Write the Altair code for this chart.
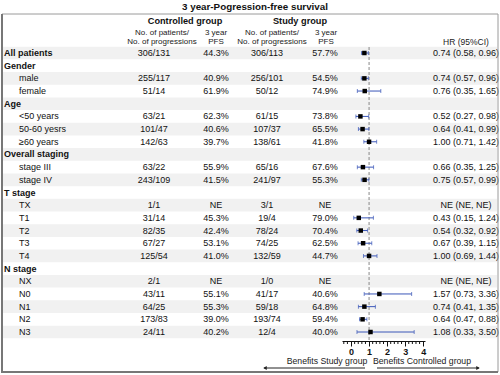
import altair as alt
import pandas as pd

FONT = "Liberation Sans"

labels = ["All patients", "Gender", "male", "female", "Age", "<50 years", "50-60 yesrs",
          "≥60 years", "Overall staging", "stage III", "stage IV", "T stage", "TX", "T1",
          "T2", "T3", "T4", "N stage", "NX", "N0", "N1", "N2", "N3"]
is_header = [True, True, False, False, True, False, False, False, True, False, False, True,
             False, False, False, False, False, True, False, False, False, False, False]
ctrl_n = ["306/131", "", "255/117", "51/14", "", "63/21", "101/47", "142/63", "", "63/22",
          "243/109", "", "1/1", "31/14", "82/35", "67/27", "125/54", "", "2/1", "43/11",
          "64/25", "173/83", "24/11"]
ctrl_pfs = ["44.3%", "", "40.9%", "61.9%", "", "62.3%", "40.6%", "39.7%", "", "55.9%",
            "41.5%", "", "NE", "45.3%", "42.4%", "53.1%", "41.0%", "", "NE", "55.1%",
            "55.3%", "39.0%", "40.2%"]
study_n = ["306/113", "", "256/101", "50/12", "", "61/15", "107/37", "138/61", "", "65/16",
           "241/97", "", "3/1", "19/4", "78/24", "74/25", "132/59", "", "1/0", "41/17",
           "59/18", "193/74", "12/4"]
study_pfs = ["57.7%", "", "54.5%", "74.9%", "", "73.8%", "65.5%", "41.8%", "", "67.6%",
             "55.3%", "", "NE", "79.0%", "70.4%", "62.5%", "44.7%", "", "NE", "40.6%",
             "64.8%", "59.4%", "40.0%"]
hr = [0.74, None, 0.74, 0.76, None, 0.52, 0.64, 1.00, None, 0.66, 0.75, None, None, 0.43,
      0.54, 0.67, 1.00, None, None, 1.57, 0.74, 0.64, 1.08]
hr_lo = [0.58, None, 0.57, 0.35, None, 0.27, 0.41, 0.71, None, 0.35, 0.57, None, None, 0.15,
         0.32, 0.39, 0.69, None, None, 0.73, 0.41, 0.47, 0.33]
hr_hi = [0.96, None, 0.96, 1.65, None, 0.98, 0.99, 1.42, None, 1.25, 0.99, None, None, 1.24,
         0.92, 1.15, 1.44, None, None, 3.36, 1.35, 0.88, 3.50]
hr_text = ["0.74 (0.58, 0.96)", "", "0.74 (0.57, 0.96)", "0.76 (0.35, 1.65)", "",
           "0.52 (0.27, 0.98)", "0.64 (0.41, 0.99)", "1.00 (0.71, 1.42)", "",
           "0.66 (0.35, 1.25)", "0.75 (0.57, 0.99)", "", "NE (NE, NE)", "0.43 (0.15, 1.24)",
           "0.54 (0.32, 0.92)", "0.67 (0.39, 1.15)", "1.00 (0.69, 1.44)", "", "NE (NE, NE)",
           "1.57 (0.73, 3.36)", "0.74 (0.41, 1.35)", "0.64 (0.47, 0.88)", "1.08 (0.33, 3.50)"]
axis_major = [0, 1, 2, 3, 4]
axis_minor = [-0.4, -0.2, 0.2, 0.4, 0.6, 0.8, 1.2, 1.4, 1.6, 1.8, 2.2, 2.4, 2.6,
              2.8, 3.2, 3.4, 3.6, 3.8]
ref_value = [1]

df = pd.DataFrame({
    "row": list(range(len(labels))),
    "label": labels,
    "header": is_header,
    "ctrl_n": ctrl_n,
    "ctrl_pfs": ctrl_pfs,
    "study_n": study_n,
    "study_pfs": study_pfs,
    "hr": hr,
    "lo": hr_lo,
    "hi": hr_hi,
    "hr_text": hr_text,
})

yscale = alt.Scale(domain=[0, 22], range=[53, 332], nice=False, zero=False)
xscale = alt.Scale(domain=[-0.5, 4.1], range=[342, 425], nice=False, zero=False)
base = alt.Chart(df)

bands = base.transform_filter("datum.row % 2 === 0").transform_calculate(
    y0="datum.row - 0.5", y1="datum.row + 0.5"
).mark_rect(color="#f1f1f1").encode(
    y=alt.Y("y0:Q", scale=yscale, axis=None), y2="y1:Q",
    x=alt.value(3), x2=alt.value(497),
)

xaxis = alt.Axis(values=axis_major, format="d", tickSize=5,
                 labelFontWeight="bold", labelFontSize=9, labelFont=FONT,
                 labelColor="#111", domainColor="#111", tickColor="#111",
                 grid=False, labelPadding=1, labelFlush=False, labelOverlap=False,
                 title=None)

ref = alt.Chart(pd.DataFrame({"ref": ref_value})).mark_rule(
    color="#888888", strokeDash=[3, 2], strokeWidth=1
).encode(
    x=alt.X("ref:Q", scale=xscale, axis=xaxis),
    y=alt.value(47), y2=alt.value(341),
)

minor = alt.Chart(pd.DataFrame({"m": axis_minor})).mark_rule(color="#111", strokeWidth=1).encode(
    x=alt.X("m:Q", scale=xscale), y=alt.value(341), y2=alt.value(344))

BLUE = "#3b57b8"
ci_data = base.transform_filter("isValid(datum.hr)")
ci = ci_data.mark_rule(color=BLUE, strokeWidth=1).encode(
    x=alt.X("lo:Q", scale=xscale),
    x2="hi:Q",
    y=alt.Y("row:Q", scale=yscale, axis=None),
)
cap_lo = ci_data.mark_tick(color=BLUE, orient="vertical", size=4, thickness=1).encode(
    x=alt.X("lo:Q", scale=xscale), y=alt.Y("row:Q", scale=yscale, axis=None))
cap_hi = ci_data.mark_tick(color=BLUE, orient="vertical", size=4, thickness=1).encode(
    x=alt.X("hi:Q", scale=xscale), y=alt.Y("row:Q", scale=yscale, axis=None))
pts = ci_data.mark_square(color="#000000", size=20, opacity=1).encode(
    x=alt.X("hr:Q", scale=xscale), y=alt.Y("row:Q", scale=yscale, axis=None))


def col_text(field, x, align="center", filt=None, weight="normal"):
    c = base
    if filt:
        c = c.transform_filter(filt)
    return c.mark_text(align=align, baseline="middle", font=FONT, fontSize=9,
                       fontWeight=weight, color="#111").encode(
        x=alt.value(x), y=alt.Y("row:Q", scale=yscale, axis=None), text=f"{field}:N")


texts = [
    col_text("label", 4, align="left", filt="datum.header", weight="bold"),
    col_text("label", 19, align="left", filt="!datum.header"),
    col_text("ctrl_n", 154),
    col_text("ctrl_pfs", 216),
    col_text("study_n", 267),
    col_text("study_pfs", 325),
    col_text("hr_text", 466),
]


def label(text, x, y, size=10, weight="normal", align="center", color="#111"):
    return alt.Chart(pd.DataFrame({"t": [text]})).mark_text(
        align=align, baseline="middle", fontSize=size, fontWeight=weight, font=FONT, color=color
    ).encode(x=alt.value(x), y=alt.value(y), text="t:N")


headers = [
    label("3 year-Pogression-free survival", 255, 7, size=9.8, weight="bold"),
    label("Controlled group", 185, 21, size=9.2, weight="bold"),
    label("Study group", 300, 21, size=9.2, weight="bold"),
    label("No. of patients/", 162, 33, size=8, color="#222"),
    label("No. of progressions", 162, 42, size=8, color="#222"),
    label("3 year", 216, 33, size=8, color="#222"),
    label("PFS", 216, 42, size=8, color="#222"),
    label("No. of patients/", 272, 33, size=8, color="#222"),
    label("No. of progressions", 272, 42, size=8, color="#222"),
    label("3 year", 326, 33, size=8, color="#222"),
    label("PFS", 326, 42, size=8, color="#222"),
    label("HR (95%CI)", 466, 42, size=8.5, color="#222"),
    label("Benefits Study group", 327, 361, size=8.7, color="#222"),
    label("Benefits Controlled group", 422, 361, size=8.7, color="#222"),
]

one = pd.DataFrame({"a": [0]})
arrows = [
    alt.Chart(one).mark_rule(color="#222", strokeWidth=1).encode(
        x=alt.value(264), x2=alt.value(365), y=alt.value(368)),
    alt.Chart(one).mark_point(shape="triangle-left", filled=True, size=16, color="#222", opacity=1).encode(
        x=alt.value(265), y=alt.value(368)),
    alt.Chart(one).mark_rule(color="#222", strokeWidth=1).encode(
        x=alt.value(377), x2=alt.value(479), y=alt.value(368)),
    alt.Chart(one).mark_point(shape="triangle-right", filled=True, size=16, color="#222", opacity=1).encode(
        x=alt.value(478), y=alt.value(368)),
]

frame = [
    alt.Chart(one).mark_rect(fillOpacity=0, stroke="#9a9a9a", strokeWidth=1).encode(
        x=alt.value(2), x2=alt.value(498), y=alt.value(14), y2=alt.value(372)),
    alt.Chart(one).mark_rule(color="#777777", strokeWidth=2).encode(
        x=alt.value(2), y=alt.value(14), y2=alt.value(373)),
    alt.Chart(one).mark_rule(color="#777777", strokeWidth=2).encode(
        x=alt.value(1), x2=alt.value(498), y=alt.value(372)),
]

chart = alt.layer(
    bands, ref, minor, ci, cap_lo, cap_hi, pts, *texts, *headers, *arrows, *frame
).properties(
    width=500, height=341,
    padding={"left": 0, "right": 0, "top": 0, "bottom": 34},
    autosize=alt.AutoSizeParams(type="none"),
    background="white",
).configure_view(stroke=None)

chart.save("out.html", embed_options={"renderer": "svg", "actions": False})
